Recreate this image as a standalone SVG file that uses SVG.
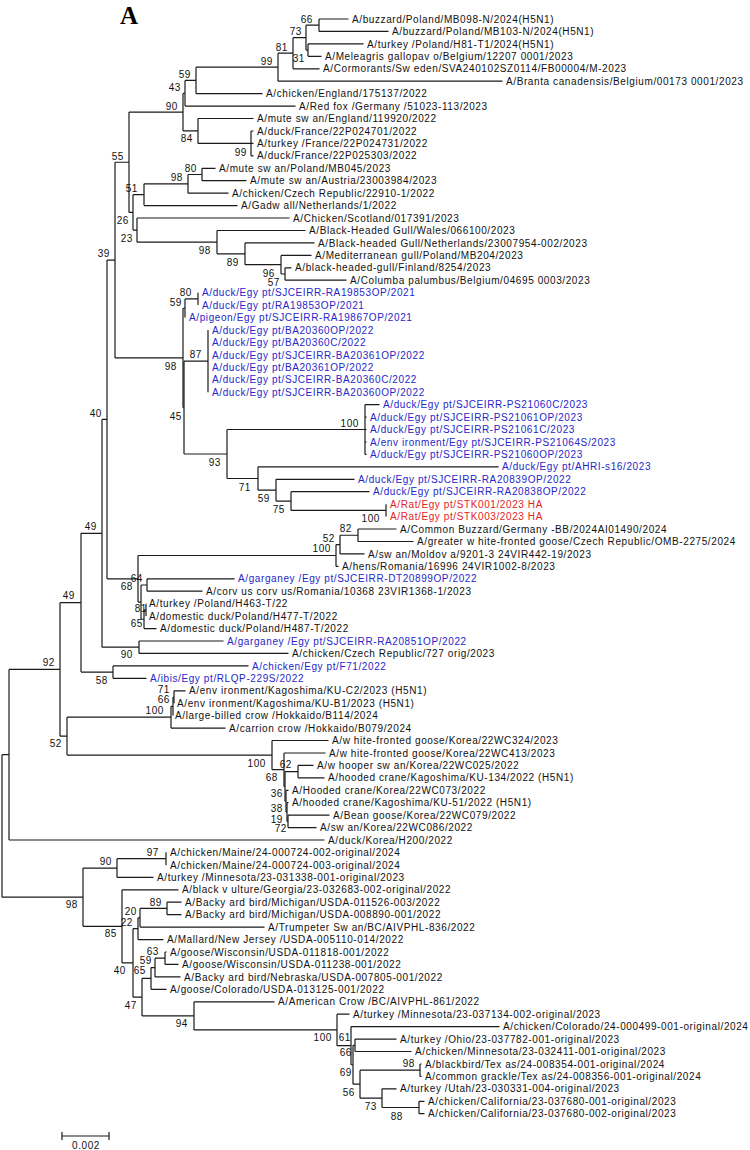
<svg xmlns="http://www.w3.org/2000/svg" width="750" height="1150" viewBox="0 0 750 1150">
<style>
.t{font-family:"Liberation Sans",Arial,sans-serif;font-size:10px;letter-spacing:0.6px;fill:#111}
.b{fill:#2626c9}
.r{fill:#e3211f}
.s{font-family:"Liberation Sans",Arial,sans-serif;font-size:10px;letter-spacing:0.6px;fill:#111;text-anchor:end}
.br{fill:none;stroke:#1a1a1a;stroke-width:1.2}
</style>
<rect width="750" height="1150" fill="#fff"/>
<text x="120" y="24" font-family="Liberation Serif,serif" font-weight="bold" font-size="25" fill="#000">A</text>
<g id="connectors" class="br">
<path d="M319 19V31.4M319 19H348.5M319 31.4H388.5"/>
<path d="M308 43.9V56.3M308 43.9H363.5M308 56.3H321.5"/>
<path d="M306 25.2V50.1M306 25.2H319M306 50.1H308"/>
<path d="M293 37.65V68.8M293 37.65H306M293 68.8H319.5"/>
<path d="M278 53.2V81.2M278 53.2H293M278 81.2H502.5"/>
<path d="M196 67.2V93.6M196 67.2H278M196 93.6H262.5"/>
<path d="M185 80.4V106.1M185 80.4H196M185 106.1H295.5"/>
<path d="M251 131V155.8M251 131H253.5M251 143.4H253.5M251 155.8H253.5"/>
<path d="M198 118.5V143.4M198 118.5H253.5M198 143.4H251"/>
<path d="M183 93.25V130.95M183 93.25H185M183 130.95H198"/>
<path d="M202 168.3V180.7M202 168.3H215.5M202 180.7H246.5"/>
<path d="M188 174.5V193.2M188 174.5H202M188 193.2H228.5"/>
<path d="M144 183.85V205.6M144 183.85H188M144 205.6H237.5"/>
<path d="M285 267.8V280.2M285 267.8H291.5M285 280.2H346.5"/>
<path d="M281 255.4V274M281 255.4H311.5M281 274H285"/>
<path d="M245 242.9V264.7M245 242.9H314.5M245 264.7H281"/>
<path d="M217 230.5V253.8M217 230.5H305.5M217 253.8H245"/>
<path d="M137 218V242.15M137 218H289.5M137 242.15H217"/>
<path d="M133 194.7V230.1M133 194.7H144M133 230.1H137"/>
<path d="M129 112.1V212.4M129 112.1H183M129 212.4H133"/>
<path d="M198 292.7V305.1"/>
<path d="M185 298.9V317.6M185 298.9H198"/>
<path d="M208 330V392.2"/>
<path d="M365 404.6V454.4M365 404.6H379.5M365 417.1H366.5M365 429.5H366.5M365 442H366.5M365 454.4H366.5"/>
<path d="M386 504.2V516.6"/>
<path d="M291 491.7V510.4M291 491.7H369.5M291 510.4H386"/>
<path d="M276 479.3V501.05M276 479.3H354.5M276 501.05H291"/>
<path d="M258 466.8V490.2M258 466.8H498.5M258 490.2H276"/>
<path d="M227 429.5V478.5M227 429.5H365M227 478.5H258"/>
<path d="M184 361.1V454M184 361.1H208M184 454H227"/>
<path d="M183 308.25V407.55M183 308.25H185M183 407.55H184"/>
<path d="M115 162.25V357.9M115 162.25H129M115 357.9H183"/>
<path d="M358 529V541.5M358 529H396.5M358 541.5H413.5"/>
<path d="M340 535.25V553.9M340 535.25H358M340 553.9H364.5"/>
<path d="M336 544.6V566.4M336 544.6H340M336 566.4H338.5"/>
<path d="M147 578.8V591.2M147 578.8H234.5M147 591.2H202.5"/>
<path d="M146 603.7V616.1"/>
<path d="M144 609.9V628.6M144 609.9H146M144 628.6H156.5"/>
<path d="M141 585V619.25M141 585H147M141 619.25H144"/>
<path d="M138 555.5V602.1M138 555.5H336M138 602.1H141"/>
<path d="M107 260.1V578.8M107 260.1H115M107 578.8H138"/>
<path d="M139 641V653.4M139 641H223.5M139 653.4H288.5"/>
<path d="M102 419.45V647.2M102 419.45H107M102 647.2H139"/>
<path d="M113 665.9V678.3M113 665.9H248.5M113 678.3H146.5"/>
<path d="M81 533.3V672.1M81 533.3H102M81 672.1H113"/>
<path d="M174 690.8V703.2M174 690.8H185.5"/>
<path d="M173 697V715.6M173 697H174"/>
<path d="M171 706.3V728.1M171 706.3H173M171 728.1H225.5"/>
<path d="M298 765.4V777.8M298 765.4H313.5M298 777.8H324.5"/>
<path d="M288 815.2V827.6M288 815.2H329.5M288 827.6H316.5"/>
<path d="M287 802.7V821.4M287 802.7H288.5M287 821.4H288"/>
<path d="M286 790.3V812.05M286 790.3H288.5M286 812.05H287"/>
<path d="M285 771.6V801.2M285 771.6H298M285 801.2H286"/>
<path d="M284 753V786.4M284 753H325.5M284 786.4H285"/>
<path d="M272 740.5V769.7M272 740.5H328.5M272 769.7H284"/>
<path d="M67 717.2V755.1M67 717.2H171M67 755.1H272"/>
<path d="M60 602.7V736.15M60 602.7H81M60 736.15H67"/>
<path d="M9 669.4V840M9 669.4H60M9 840H324.5"/>
<path d="M166 852.5V864.9M166 852.5H166.5M166 864.9H166.5"/>
<path d="M117 858.7V877.4M117 858.7H166M117 877.4H153.5"/>
<path d="M167 902.2V914.7M167 902.2H181.5M167 914.7H181.5"/>
<path d="M140 908.45V927.1M140 908.45H167M140 927.1H264.5"/>
<path d="M138 917.8V939.6M138 917.8H140M138 939.6H163.5"/>
<path d="M165 952V964.4M165 952H166.5M165 964.4H178.5"/>
<path d="M155 958.2V976.9M155 958.2H165M155 976.9H180.5"/>
<path d="M151 967.55V989.3M151 967.55H155M151 989.3H166.5"/>
<path d="M355 1039.1V1051.5M355 1039.1H396.5M355 1051.5H411.5"/>
<path d="M420 1064V1076.4M420 1064H421.5M420 1076.4H421.5"/>
<path d="M419 1101.3V1113.7M419 1101.3H424.5M419 1113.7H424.5"/>
<path d="M382 1088.8V1107.5M382 1088.8H396.5M382 1107.5H419"/>
<path d="M360 1070.2V1098.15M360 1070.2H420M360 1098.15H382"/>
<path d="M353 1045.3V1084.2M353 1045.3H355M353 1084.2H360"/>
<path d="M351 1026.6V1064.75M351 1026.6H499.5M351 1064.75H353"/>
<path d="M337 1014.2V1045.7M337 1014.2H349.5M337 1045.7H351"/>
<path d="M194 1001.8V1029.95M194 1001.8H274.5M194 1029.95H337"/>
<path d="M142 978.4V1015.9M142 978.4H151M142 1015.9H194"/>
<path d="M133 928.7V997.15M133 928.7H138M133 997.15H142"/>
<path d="M122 889.8V962.9M122 889.8H178.5M122 962.9H133"/>
<path d="M83 868.05V926.35M83 868.05H117M83 926.35H122"/>
<path d="M2 754.7V897.2M2 754.7H9M2 897.2H83"/>
</g>
<g id="support-values">
<text class="s" x="313" y="22.6">66</text>
<text class="s" x="302" y="34.6">73</text>
<text class="s" x="288" y="50.6">81</text>
<text class="s" x="305" y="61.6">31</text>
<text class="s" x="273" y="64.6">99</text>
<text class="s" x="191" y="77.6">59</text>
<text class="s" x="181" y="90.6">43</text>
<text class="s" x="178" y="109.6">90</text>
<text class="s" x="193" y="141.6">84</text>
<text class="s" x="247" y="155.6">99</text>
<text class="s" x="124" y="159.6">55</text>
<text class="s" x="197" y="171.6">80</text>
<text class="s" x="183" y="180.6">98</text>
<text class="s" x="138" y="191.6">51</text>
<text class="s" x="129" y="223.6">26</text>
<text class="s" x="133" y="241.6">23</text>
<text class="s" x="110" y="256.6">39</text>
<text class="s" x="211" y="253.6">98</text>
<text class="s" x="239" y="265.6">89</text>
<text class="s" x="275" y="276.6">96</text>
<text class="s" x="280" y="285.6">57</text>
<text class="s" x="192" y="295.6">80</text>
<text class="s" x="182" y="305.6">59</text>
<text class="s" x="202" y="357.6">87</text>
<text class="s" x="177" y="369.6">98</text>
<text class="s" x="102" y="416.6">40</text>
<text class="s" x="182" y="419.6">45</text>
<text class="s" x="359" y="426.6">100</text>
<text class="s" x="221" y="465.6">93</text>
<text class="s" x="251" y="490.6">71</text>
<text class="s" x="270" y="501.6">59</text>
<text class="s" x="285" y="512.6">75</text>
<text class="s" x="380" y="521.6">100</text>
<text class="s" x="97" y="529.6">49</text>
<text class="s" x="352" y="531.6">82</text>
<text class="s" x="335" y="541.6">52</text>
<text class="s" x="331" y="551.6">100</text>
<text class="s" x="143" y="581.6">64</text>
<text class="s" x="133" y="589.6">68</text>
<text class="s" x="75" y="598.6">49</text>
<text class="s" x="147" y="611.6">81</text>
<text class="s" x="143" y="626.6">65</text>
<text class="s" x="133" y="657.6">90</text>
<text class="s" x="55" y="665.6">92</text>
<text class="s" x="108" y="683.6">58</text>
<text class="s" x="170" y="692.6">71</text>
<text class="s" x="170" y="702.6">66</text>
<text class="s" x="164" y="713.6">100</text>
<text class="s" x="62" y="746.6">52</text>
<text class="s" x="266" y="766.6">100</text>
<text class="s" x="292" y="767.6">62</text>
<text class="s" x="278" y="780.6">68</text>
<text class="s" x="283" y="796.6">36</text>
<text class="s" x="283" y="811.6">38</text>
<text class="s" x="283" y="822.6">19</text>
<text class="s" x="287" y="831.6">72</text>
<text class="s" x="159" y="855.6">97</text>
<text class="s" x="112" y="864.6">90</text>
<text class="s" x="78" y="907.6">98</text>
<text class="s" x="162" y="905.6">89</text>
<text class="s" x="137" y="914.6">20</text>
<text class="s" x="133" y="925.6">22</text>
<text class="s" x="117" y="936.6">85</text>
<text class="s" x="159" y="954.6">63</text>
<text class="s" x="152" y="963.6">59</text>
<text class="s" x="126" y="973.6">40</text>
<text class="s" x="146" y="973.6">65</text>
<text class="s" x="137" y="1008.6">47</text>
<text class="s" x="188" y="1026.6">94</text>
<text class="s" x="332" y="1040.6">100</text>
<text class="s" x="351" y="1040.6">61</text>
<text class="s" x="352" y="1055.6">66</text>
<text class="s" x="352" y="1075.6">69</text>
<text class="s" x="355" y="1095.6">56</text>
<text class="s" x="415" y="1066.6">98</text>
<text class="s" x="377" y="1109.6">73</text>
<text class="s" x="403" y="1119.6">88</text>
</g>
<g id="leaves">
<g id="n1"><text class="t" x="352" y="22.6">A/buzzard/Poland/MB098-N/2024(H5N1)</text></g>
<g id="n2"><text class="t" x="392" y="35">A/buzzard/Poland/MB103-N/2024(H5N1)</text></g>
<g id="n3"><text class="t" x="367" y="47.5">A/turkey /Poland/H81-T1/2024(H5N1)</text></g>
<g id="n4"><text class="t" x="325" y="59.9">A/Meleagris gallopav o/Belgium/12207 0001/2023</text></g>
<g id="n5"><text class="t" x="323" y="72.4">A/Cormorants/Sw eden/SVA240102SZ0114/FB00004/M-2023</text></g>
<g id="n6"><text class="t" x="506" y="84.8">A/Branta canadensis/Belgium/00173 0001/2023</text></g>
<g id="n7"><text class="t" x="266" y="97.2">A/chicken/England/175137/2022</text></g>
<g id="n8"><text class="t" x="299" y="109.7">A/Red fox /Germany /51023-113/2023</text></g>
<g id="n9"><text class="t" x="257" y="122.1">A/mute sw an/England/119920/2022</text></g>
<g id="n10"><text class="t" x="257" y="134.6">A/duck/France/22P024701/2022</text></g>
<g id="n11"><text class="t" x="257" y="147">A/turkey /France/22P024731/2022</text></g>
<g id="n12"><text class="t" x="257" y="159.4">A/duck/France/22P025303/2022</text></g>
<g id="n13"><text class="t" x="219" y="171.9">A/mute sw an/Poland/MB045/2023</text></g>
<g id="n14"><text class="t" x="250" y="184.3">A/mute sw an/Austria/23003984/2023</text></g>
<g id="n15"><text class="t" x="232" y="196.8">A/chicken/Czech Republic/22910-1/2022</text></g>
<g id="n16"><text class="t" x="241" y="209.2">A/Gadw all/Netherlands/1/2022</text></g>
<g id="n17"><text class="t" x="293" y="221.6">A/Chicken/Scotland/017391/2023</text></g>
<g id="n18"><text class="t" x="309" y="234.1">A/Black-Headed Gull/Wales/066100/2023</text></g>
<g id="n19"><text class="t" x="318" y="246.5">A/Black-headed Gull/Netherlands/23007954-002/2023</text></g>
<g id="n20"><text class="t" x="315" y="259">A/Mediterranean gull/Poland/MB204/2023</text></g>
<g id="n21"><text class="t" x="295" y="271.4">A/black-headed-gull/Finland/8254/2023</text></g>
<g id="n22"><text class="t" x="350" y="283.8">A/Columba palumbus/Belgium/04695 0003/2023</text></g>
<g id="n23"><text class="t b" x="202" y="296.3">A/duck/Egy pt/SJCEIRR-RA19853OP/2021</text></g>
<g id="n24"><text class="t b" x="202" y="308.7">A/duck/Egy pt/RA19853OP/2021</text></g>
<g id="n25"><text class="t b" x="189" y="321.2">A/pigeon/Egy pt/SJCEIRR-RA19867OP/2021</text></g>
<g id="n26"><text class="t b" x="212" y="333.6">A/duck/Egy pt/BA20360OP/2022</text></g>
<g id="n27"><text class="t b" x="212" y="346">A/duck/Egy pt/BA20360C/2022</text></g>
<g id="n28"><text class="t b" x="212" y="358.5">A/duck/Egy pt/SJCEIRR-BA20361OP/2022</text></g>
<g id="n29"><text class="t b" x="212" y="370.9">A/duck/Egy pt/BA20361OP/2022</text></g>
<g id="n30"><text class="t b" x="212" y="383.4">A/duck/Egy pt/SJCEIRR-BA20360C/2022</text></g>
<g id="n31"><text class="t b" x="212" y="395.8">A/duck/Egy pt/SJCEIRR-BA20360OP/2022</text></g>
<g id="n32"><text class="t b" x="383" y="408.2">A/duck/Egy pt/SJCEIRR-PS21060C/2023</text></g>
<g id="n33"><text class="t b" x="370" y="420.7">A/duck/Egy pt/SJCEIRR-PS21061OP/2023</text></g>
<g id="n34"><text class="t b" x="370" y="433.1">A/duck/Egy pt/SJCEIRR-PS21061C/2023</text></g>
<g id="n35"><text class="t b" x="370" y="445.6">A/env ironment/Egy pt/SJCEIRR-PS21064S/2023</text></g>
<g id="n36"><text class="t b" x="370" y="458">A/duck/Egy pt/SJCEIRR-PS21060OP/2023</text></g>
<g id="n37"><text class="t b" x="502" y="470.4">A/duck/Egy pt/AHRI-s16/2023</text></g>
<g id="n38"><text class="t b" x="358" y="482.9">A/duck/Egy pt/SJCEIRR-RA20839OP/2022</text></g>
<g id="n39"><text class="t b" x="373" y="495.3">A/duck/Egy pt/SJCEIRR-RA20838OP/2022</text></g>
<g id="n40"><text class="t r" x="390" y="507.8">A/Rat/Egy pt/STK001/2023 HA</text></g>
<g id="n41"><text class="t r" x="390" y="520.2">A/Rat/Egy pt/STK003/2023 HA</text></g>
<g id="n42"><text class="t" x="400" y="532.6">A/Common Buzzard/Germany -BB/2024AI01490/2024</text></g>
<g id="n43"><text class="t" x="417" y="545.1">A/greater w hite-fronted goose/Czech Republic/OMB-2275/2024</text></g>
<g id="n44"><text class="t" x="368" y="557.5">A/sw an/Moldov a/9201-3 24VIR442-19/2023</text></g>
<g id="n45"><text class="t" x="342" y="570">A/hens/Romania/16996 24VIR1002-8/2023</text></g>
<g id="n46"><text class="t b" x="238" y="582.4">A/garganey /Egy pt/SJCEIRR-DT20899OP/2022</text></g>
<g id="n47"><text class="t" x="206" y="594.8">A/corv us corv us/Romania/10368 23VIR1368-1/2023</text></g>
<g id="n48"><text class="t" x="149" y="607.3">A/turkey /Poland/H463-T/22</text></g>
<g id="n49"><text class="t" x="149" y="619.7">A/domestic duck/Poland/H477-T/2022</text></g>
<g id="n50"><text class="t" x="160" y="632.2">A/domestic duck/Poland/H487-T/2022</text></g>
<g id="n51"><text class="t b" x="227" y="644.6">A/garganey /Egy pt/SJCEIRR-RA20851OP/2022</text></g>
<g id="n52"><text class="t" x="292" y="657">A/chicken/Czech Republic/727 orig/2023</text></g>
<g id="n53"><text class="t b" x="252" y="669.5">A/chicken/Egy pt/F71/2022</text></g>
<g id="n54"><text class="t b" x="150" y="681.9">A/ibis/Egy pt/RLQP-229S/2022</text></g>
<g id="n55"><text class="t" x="189" y="694.4">A/env ironment/Kagoshima/KU-C2/2023 (H5N1)</text></g>
<g id="n56"><text class="t" x="177" y="706.8">A/env ironment/Kagoshima/KU-B1/2023 (H5N1)</text></g>
<g id="n57"><text class="t" x="175" y="719.2">A/large-billed crow /Hokkaido/B114/2024</text></g>
<g id="n58"><text class="t" x="229" y="731.7">A/carrion crow /Hokkaido/B079/2024</text></g>
<g id="n59"><text class="t" x="332" y="744.1">A/w hite-fronted goose/Korea/22WC324/2023</text></g>
<g id="n60"><text class="t" x="329" y="756.6">A/w hite-fronted goose/Korea/22WC413/2023</text></g>
<g id="n61"><text class="t" x="317" y="769">A/w hooper sw an/Korea/22WC025/2022</text></g>
<g id="n62"><text class="t" x="328" y="781.4">A/hooded crane/Kagoshima/KU-134/2022 (H5N1)</text></g>
<g id="n63"><text class="t" x="292" y="793.9">A/Hooded crane/Korea/22WC073/2022</text></g>
<g id="n64"><text class="t" x="292" y="806.3">A/hooded crane/Kagoshima/KU-51/2022 (H5N1)</text></g>
<g id="n65"><text class="t" x="333" y="818.8">A/Bean goose/Korea/22WC079/2022</text></g>
<g id="n66"><text class="t" x="320" y="831.2">A/sw an/Korea/22WC086/2022</text></g>
<g id="n67"><text class="t" x="328" y="843.6">A/duck/Korea/H200/2022</text></g>
<g id="n68"><text class="t" x="170" y="856.1">A/chicken/Maine/24-000724-002-original/2024</text></g>
<g id="n69"><text class="t" x="170" y="868.5">A/chicken/Maine/24-000724-003-original/2024</text></g>
<g id="n70"><text class="t" x="157" y="881">A/turkey /Minnesota/23-031338-001-original/2023</text></g>
<g id="n71"><text class="t" x="182" y="893.4">A/black v ulture/Georgia/23-032683-002-original/2022</text></g>
<g id="n72"><text class="t" x="185" y="905.8">A/Backy ard bird/Michigan/USDA-011526-003/2022</text></g>
<g id="n73"><text class="t" x="185" y="918.3">A/Backy ard bird/Michigan/USDA-008890-001/2022</text></g>
<g id="n74"><text class="t" x="268" y="930.7">A/Trumpeter Sw an/BC/AIVPHL-836/2022</text></g>
<g id="n75"><text class="t" x="167" y="943.2">A/Mallard/New Jersey /USDA-005110-014/2022</text></g>
<g id="n76"><text class="t" x="170" y="955.6">A/goose/Wisconsin/USDA-011818-001/2022</text></g>
<g id="n77"><text class="t" x="182" y="968">A/goose/Wisconsin/USDA-011238-001/2022</text></g>
<g id="n78"><text class="t" x="184" y="980.5">A/Backy ard bird/Nebraska/USDA-007805-001/2022</text></g>
<g id="n79"><text class="t" x="170" y="992.9">A/goose/Colorado/USDA-013125-001/2022</text></g>
<g id="n80"><text class="t" x="278" y="1005.4">A/American Crow /BC/AIVPHL-861/2022</text></g>
<g id="n81"><text class="t" x="353" y="1017.8">A/turkey /Minnesota/23-037134-002-original/2023</text></g>
<g id="n82"><text class="t" x="503" y="1030.2">A/chicken/Colorado/24-000499-001-original/2024</text></g>
<g id="n83"><text class="t" x="400" y="1042.7">A/turkey /Ohio/23-037782-001-original/2023</text></g>
<g id="n84"><text class="t" x="415" y="1055.1">A/chicken/Minnesota/23-032411-001-original/2023</text></g>
<g id="n85"><text class="t" x="425" y="1067.6">A/blackbird/Tex as/24-008354-001-original/2024</text></g>
<g id="n86"><text class="t" x="425" y="1080">A/common grackle/Tex as/24-008356-001-original/2024</text></g>
<g id="n87"><text class="t" x="400" y="1092.4">A/turkey /Utah/23-030331-004-original/2023</text></g>
<g id="n88"><text class="t" x="428" y="1104.9">A/chicken/California/23-037680-001-original/2023</text></g>
<g id="n89"><text class="t" x="428" y="1117.3">A/chicken/California/23-037680-002-original/2023</text></g>
</g>
<g id="scale-bar">
<path class="br" d="M62 1136H109M62 1132V1140M109 1132V1140"/>
<text class="t" x="86" y="1149" text-anchor="middle">0.002</text>
</g>
</svg>
